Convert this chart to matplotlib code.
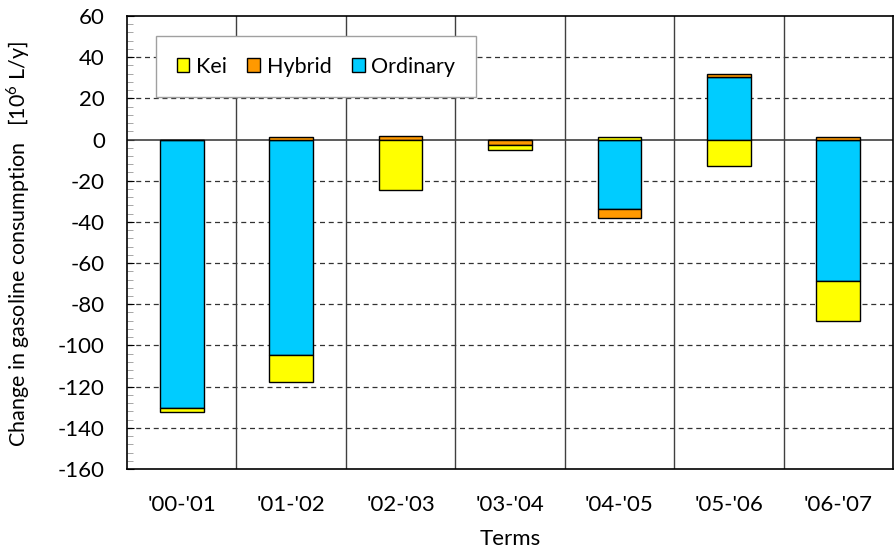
import numpy as np
import matplotlib.pyplot as plt
from matplotlib.ticker import MultipleLocator

plt.rcParams['font.family'] = ['Lato', 'DejaVu Sans']
plt.rcParams['mathtext.fontset'] = 'custom'
plt.rcParams['mathtext.rm'] = 'Lato'
plt.rcParams['axes.unicode_minus'] = False

terms = ["'00-'01", "'01-'02", "'02-'03", "'03-'04", "'04-'05", "'05-'06", "'06-'07"]
# 10^6 L/y
kei = [-2.0, -13.3, -24.5, -2.7, 1.0, -12.9, -19.3]
hybrid = [0.0, 1.3, 1.5, -2.6, -4.4, 1.8, 1.1]
ordinary = [-130.2, -104.6, 0.0, 0.0, -33.6, 30.2, -68.7]

colors = {'Kei': '#ffff00', 'Hybrid': '#ff9900', 'Ordinary': '#00ccff'}

fig = plt.figure(figsize=(8.95, 5.55), dpi=100)
ax = fig.add_axes([0.1419, 0.155, 0.8559, 0.8162])

x = np.arange(len(terms))
# stack like Excel: ordinary nearest the axis, then hybrid, then kei
pos_base = np.zeros(len(terms))
neg_base = np.zeros(len(terms))
handles = {}
for name, vals in [('Ordinary', ordinary), ('Hybrid', hybrid), ('Kei', kei)]:
    vals = np.array(vals)
    base = np.where(vals >= 0, pos_base, neg_base)
    b = ax.bar(x, vals, 0.4, bottom=base, color=colors[name],
               edgecolor='black', linewidth=1, zorder=3)
    handles[name] = b
    pos_base = pos_base + np.where(vals > 0, vals, 0)
    neg_base = neg_base + np.where(vals < 0, vals, 0)

ax.set_xlim(-0.5, len(terms) - 0.5)
ax.set_ylim(-160, 60)
ax.yaxis.set_major_locator(MultipleLocator(20))
ax.yaxis.set_minor_locator(MultipleLocator(4))

for yv in range(-140, 60, 20):
    if yv == 0:
        ax.axhline(0, color='#404040', lw=1.2, zorder=2)
    else:
        ax.axhline(yv, color='#333333', lw=0.9, ls=(0, (4, 3)), zorder=1)
for xv in np.arange(0.5, len(terms) - 0.5, 1):
    ax.axvline(xv, color='#404040', lw=1, zorder=1)

fs = 16
ax.set_xticks(x)
ax.set_xticklabels(terms)
ax.tick_params(axis='x', length=0, pad=19, labelsize=fs)
ax.tick_params(axis='y', which='major', direction='in', length=5, labelsize=fs, pad=16)
ax.tick_params(axis='y', which='minor', direction='in', length=4, color='#999999')
for s in ax.spines.values():
    s.set_color('black')
    s.set_linewidth(1.2)

fig.text(18 / 895, 0.56, 'Change in gasoline consumption   [10$^{6}$ L/y]',
         fontsize=15.5, rotation=90, ha='center', va='center')
ax.set_xlabel('Terms', fontsize=fs, labelpad=10)

leg = ax.legend([handles['Kei'], handles['Hybrid'], handles['Ordinary']],
                ['Kei', 'Hybrid', 'Ordinary'], ncol=3, loc='upper left',
                bbox_to_anchor=(0.038, 0.955), fontsize=15.5, fancybox=False,
                framealpha=1, edgecolor='#a0a0a0', handlelength=0.6,
                handleheight=0.6, columnspacing=0.95, handletextpad=0.3,
                borderpad=0.95, borderaxespad=0)
leg.set_zorder(5)
leg.get_frame().set_linewidth(1)

fig.savefig('out.png')
